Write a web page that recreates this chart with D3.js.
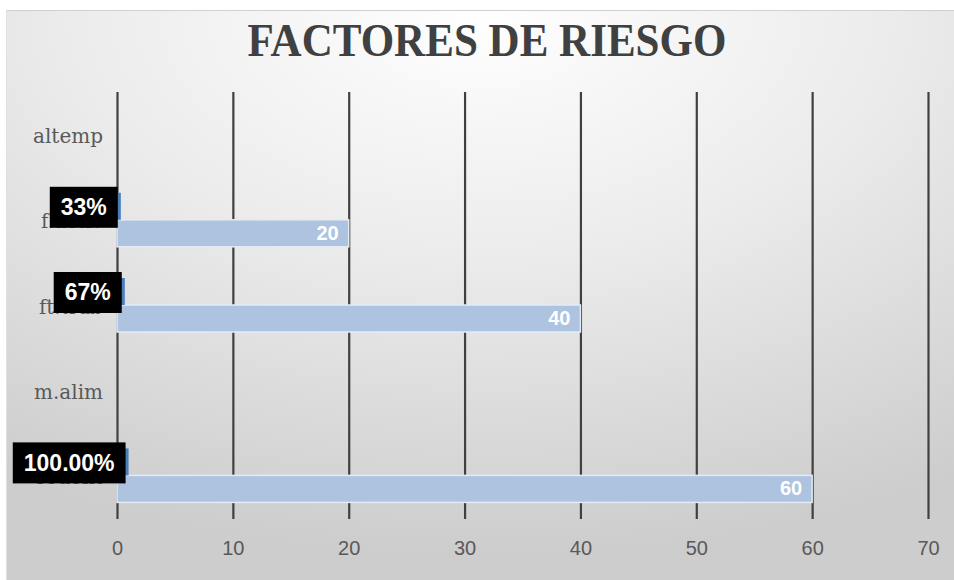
<!DOCTYPE html>
<html>
<head>
<meta charset="utf-8">
<script src="https://cdn.jsdelivr.net/npm/d3@7"></script>
<style>
html,body{margin:0;padding:0;background:#fff;}
svg{display:block;}
</style>
</head>
<body>
<svg id="chart" width="954" height="580"></svg>
<script>
const categories = ["altemp", "f.activ", "ft.trab", "m.alim", "sedent"];
const counts = [0, 20, 40, 0, 60];
const shares = [null, 0.33, 0.67, null, 1.0];
const shareLabels = [null, "33%", "67%", null, "100.00%"];
const xTicks = [0, 10, 20, 30, 40, 50, 60, 70];
const title = "FACTORES DE RIESGO";

const svg = d3.select("#chart");
const W = 954, H = 580;
const defs = svg.append("defs");
const grad = defs.append("radialGradient").attr("id", "bg")
  .attr("cx", "50%").attr("cy", "0%").attr("r", "95%")
  .attr("gradientUnits", "objectBoundingBox");
grad.append("stop").attr("offset", "0%").attr("stop-color", "#ffffff");
grad.append("stop").attr("offset", "45%").attr("stop-color", "#ececec");
grad.append("stop").attr("offset", "100%").attr("stop-color", "#cdcdcd");

svg.append("rect").attr("x", 6).attr("y", 10).attr("width", W - 6).attr("height", H - 10)
  .attr("fill", "url(#bg)");
svg.append("line").attr("x1", 6).attr("x2", W).attr("y1", 10.5).attr("y2", 10.5)
  .attr("stroke", "#d0d0d0").attr("stroke-width", 1);
svg.append("line").attr("x1", 6.5).attr("x2", 6.5).attr("y1", 10).attr("y2", H)
  .attr("stroke", "#e0e0e0").attr("stroke-width", 1);

const plotTop = 92, plotBottom = 518;
const x = d3.scaleLinear().domain([0, 70]).range([117, 928]);
const y = d3.scaleBand().domain(categories).range([plotTop, plotBottom])
  .paddingInner(0.366).paddingOuter(0.183);
const sub = d3.scaleBand().domain(["share", "count"]).range([0, y.bandwidth()]);

// title
svg.append("text").attr("x", 487).attr("y", 56).attr("text-anchor", "middle")
  .attr("font-family", "Liberation Serif").attr("font-weight", "bold")
  .attr("font-size", 47).attr("fill", "#404040")
  .attr("textLength", 479).attr("lengthAdjust", "spacingAndGlyphs")
  .text(title);

// gridlines via axis
const gx = svg.append("g").attr("transform", `translate(0,${plotBottom})`)
  .call(d3.axisBottom(x).tickValues(xTicks).tickSize(plotBottom - plotTop).tickPadding(0));
gx.select(".domain").remove();
gx.selectAll(".tick line").attr("y1", 1).attr("y2", -(plotBottom - plotTop))
  .attr("stroke", "#404040").attr("stroke-width", 2.2);
gx.selectAll(".tick text").attr("y", 37).attr("dy", 0)
  .attr("font-family", "Liberation Sans").attr("font-size", 20).attr("fill", "#595959");

// category labels
svg.append("g").selectAll("text").data(categories).join("text")
  .attr("x", 103).attr("y", d => y(d) + y.bandwidth() / 2 + 3)
  .attr("text-anchor", "end").attr("dominant-baseline", "middle")
  .attr("font-family", "DejaVu Serif").attr("font-size", 20).attr("fill", "#595959")
  .text(d => d);

const rows = categories.map((c, i) => ({c, count: counts[i], share: shares[i], label: shareLabels[i]}));

// count bars
svg.append("g").selectAll("rect").data(rows.filter(r => r.count > 0)).join("rect")
  .attr("x", x(0)).attr("y", r => y(r.c) + sub("count"))
  .attr("width", r => x(r.count) - x(0)).attr("height", sub.bandwidth())
  .attr("fill", "#aec3df").attr("stroke", "#e4ebf5").attr("stroke-width", 1.5);

// share bars
svg.append("g").selectAll("rect").data(rows.filter(r => r.share != null)).join("rect")
  .attr("x", x(0)).attr("y", r => y(r.c) + sub("share"))
  .attr("width", r => x(r.share) - x(0)).attr("height", sub.bandwidth())
  .attr("fill", "#4a7ebb");

// count labels
svg.append("g").selectAll("text").data(rows.filter(r => r.count > 0)).join("text")
  .attr("x", r => x(r.count) - 10).attr("y", r => y(r.c) + sub("count") + sub.bandwidth() / 2 + 1)
  .attr("text-anchor", "end").attr("dominant-baseline", "middle")
  .attr("font-family", "Liberation Sans").attr("font-weight", "bold").attr("font-size", 20)
  .attr("fill", "#ffffff").text(r => r.count);

// share labels with black boxes
const lg = svg.append("g").selectAll("g").data(rows.filter(r => r.share != null)).join("g");
lg.each(function(r) {
  const g = d3.select(this);
  const cy = y(r.c) + sub("share") + sub.bandwidth() / 2;
  const t = g.append("text").attr("text-anchor", "middle").attr("dominant-baseline", "central")
    .attr("font-family", "Liberation Sans").attr("font-weight", "bold").attr("font-size", 23)
    .attr("fill", "#ffffff").text(r.label);
  const w = t.node().getComputedTextLength();
  const bw = w + 22, bh = 41;
  const right = x(r.share) - 3;
  g.insert("rect", "text").attr("x", right - bw).attr("y", cy - bh / 2 + 1)
    .attr("width", bw).attr("height", bh).attr("fill", "#000000");
  t.attr("x", right - bw / 2).attr("y", cy + 1);
});
</script>
</body>
</html>
